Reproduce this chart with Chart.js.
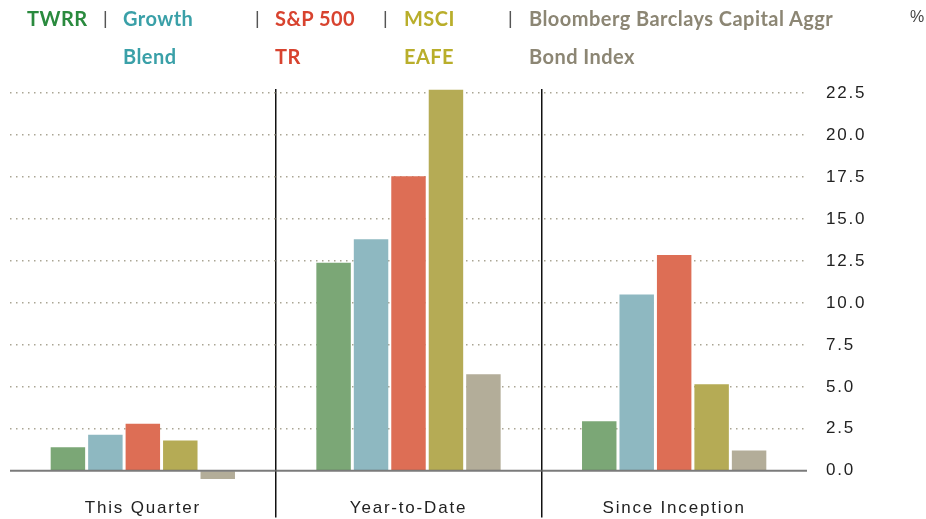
<!DOCTYPE html>
<html>
<head>
<meta charset="utf-8">
<script src="https://cdn.jsdelivr.net/npm/chart.js@4.4.0/dist/chart.umd.min.js"></script>
<style>
  html, body { margin: 0; padding: 0; background: #fff; }
  #wrap { position: relative; width: 926px; height: 519px; overflow: hidden; }
  #chart { position: absolute; left: 0; top: 0; }
  .lg { position: absolute; top: -1px; font-family: Lato, 'Open Sans', sans-serif; font-weight: 700;
        font-size: 20px; line-height: 38px; letter-spacing: 0.45px; white-space: nowrap; }
  .sep { position: absolute; top: -1px; font-family: 'Liberation Sans', sans-serif; font-size: 18px;
         line-height: 38px; color: #555; }
  .pct { position: absolute; top: 6px; left: 910px; font-family: 'Liberation Sans', sans-serif;
         font-size: 16px; line-height: 22px; color: #444; }
</style>
</head>
<body>
<div id="wrap">
  <canvas id="chart" width="926" height="519"></canvas>
  <div id="legend"></div>
  <div class="pct">%</div>
</div>
<script>
// ── Data ──────────────────────────────────────────────────────────────────
const categories  = ['This Quarter', 'Year-to-Date', 'Since Inception'];
const seriesNames = ['TWRR', 'Growth|Blend', 'S&P 500|TR', 'MSCI|EAFE', 'Bloomberg Barclays Capital Aggr|Bond Index'];

const twrr        = [1.4, 12.4, 2.95];
const growthBlend = [2.15, 13.8, 10.5];
const sp500       = [2.8, 17.55, 12.85];
const msciEafe    = [1.8, 22.7, 5.15];
const bondIndex   = [-0.5, 5.75, 1.2];

const yTicks = [0, 2.5, 5, 7.5, 10, 12.5, 15, 17.5, 20, 22.5];

// ── Styles ────────────────────────────────────────────────────────────────
const BAR_COLORS  = ['#7ba776', '#8eb8c1', '#dd6e55', '#b5ab55', '#b3ad99'];
const TEXT_COLORS = ['#2a8a3e', '#3aa0a8', '#d8432f', '#b9ae2b', '#8c8674'];
const LEGEND_X    = [27, 123, 275, 404, 529];
const SEP_X       = [103, 255, 383, 508];

// ── Legend (HTML) ─────────────────────────────────────────────────────────
(function buildLegend() {
  const box = document.getElementById('legend');
  seriesNames.forEach((name, i) => {
    const el = document.createElement('div');
    el.className = 'lg';
    el.style.left  = LEGEND_X[i] + 'px';
    el.style.color = TEXT_COLORS[i];
    el.innerHTML = name.split('|').join('<br>');
    box.appendChild(el);
  });
  SEP_X.forEach(x => {
    const s = document.createElement('div');
    s.className = 'sep';
    s.style.left = x + 'px';
    s.textContent = '|';
    box.appendChild(s);
  });
})();

// ── Plugin: letter spacing + zero line over bars ──────────────────────────
const extras = {
  id: 'extras',
  beforeUpdate(chart) { chart.ctx.letterSpacing = '1.8px'; },
  beforeDraw(chart)   { chart.ctx.letterSpacing = '1.8px'; },
  afterDatasetsDraw(chart) {
    const { ctx, chartArea, scales } = chart;
    const y = scales.y.getPixelForValue(0);
    ctx.save();
    ctx.strokeStyle = 'rgba(100, 100, 100, 0.85)';
    ctx.lineWidth = 2;
    ctx.beginPath();
    ctx.moveTo(chartArea.left, y);
    ctx.lineTo(chartArea.right, y);
    ctx.stroke();
    ctx.restore();
  },
};

const allSeries = [twrr, growthBlend, sp500, msciEafe, bondIndex];

new Chart(document.getElementById('chart'), {
  type: 'bar',
  data: {
    labels: categories,
    datasets: allSeries.map((data, i) => ({
      label: seriesNames[i].replace('|', ' '),
      data,
      backgroundColor: BAR_COLORS[i],
      borderWidth: 0,
      categoryPercentage: 0.705,
      barPercentage: 0.92,
    })),
  },
  options: {
    responsive: false,
    animation: false,
    layout: { padding: { top: 89, left: 10, right: 0, bottom: 0 } },
    plugins: { legend: { display: false }, tooltip: { enabled: false } },
    scales: {
      x: {
        grid: {
          offset: true,
          color: c => (c.index === 1 || c.index === 2) ? '#111' : 'transparent',
          tickColor: c => (c.index === 1 || c.index === 2) ? '#111' : 'transparent',
          lineWidth: 1.5,
          tickLength: 30,
        },
        border: { display: false },
        ticks: {
          padding: -19,
          color: '#222',
          font: { family: "'Liberation Sans'", size: 17 },
        },
        afterFit: s => { s.height = 31.5; },
      },
      y: {
        position: 'right',
        min: -1,
        max: 22.75,
        afterBuildTicks: s => { s.ticks = yTicks.map(v => ({ value: v })); },
        grid: {
          drawTicks: false,
          color: c => (c.tick && c.tick.value === 0) ? 'transparent' : '#aaa594',
          lineWidth: 1.5,
        },
        border: { display: false, dash: [1.5, 4.5] },
        ticks: {
          padding: 19,
          color: '#222',
          font: { family: "'Liberation Sans'", size: 17 },
          callback: v => v.toFixed(1),
        },
        afterFit: s => { s.width = 119; },
      },
    },
  },
  plugins: [extras],
});
</script>
</body>
</html>
